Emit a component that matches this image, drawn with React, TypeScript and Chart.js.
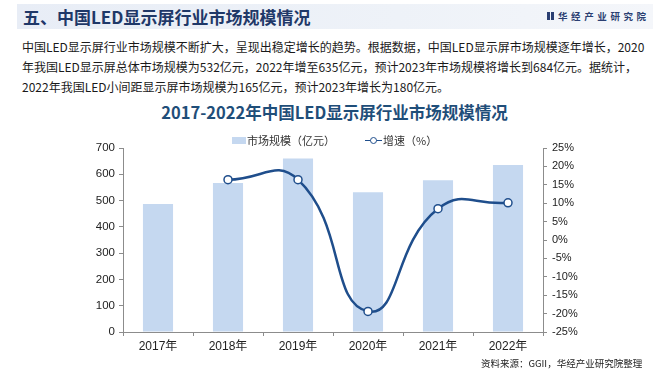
import React, { useEffect, useRef } from "react";
import { Chart, registerables } from "chart.js";

Chart.register(...registerables);

// ---- data ----
const categories = ["2017年", "2018年", "2019年", "2020年", "2021年", "2022年"];
const marketSize = [487, 567, 660, 532, 577, 635]; // 市场规模（亿元）
const growthRate = [null, 16.4, 16.4, -19.4, 8.5, 10.1]; // 增速（%）
const leftTickMin = 0;
const leftTickMax = 700;
const leftTickStep = 100;
const rightTickMin = -25;
const rightTickMax = 25;
const rightTickStep = 5;

const barLabel = "市场规模（亿元）";
const lineLabel = "增速（%）";
const headerTitle = "五、中国LED显示屏行业市场规模情况";
const chartTitle = "2017-2022年中国LED显示屏行业市场规模情况";
const paragraphLines = [
  "中国LED显示屏行业市场规模不断扩大，呈现出稳定增长的趋势。根据数据，中国LED显示屏市场规模逐年增长，2020",
  "年我国LED显示屏总体市场规模为532亿元，2022年增至635亿元，预计2023年市场规模将增长到684亿元。据统计，",
  "2022年我国LED小间距显示屏市场规模为165亿元，预计2023年增长为180亿元。",
];
const sourceText = "资料来源：GGII，华经产业研究院整理";
const logoText = "华经产业研究院";

const barColor = "#c5d8f0";
const lineColor = "#1f4e8c";
const axisColor = "#8c8c8c";
const cjk = "'Noto Sans CJK SC', sans-serif";
const latin = "'Liberation Sans', Arial, 'Noto Sans CJK SC', sans-serif";

export default function App() {
  const canvasRef = useRef<HTMLCanvasElement | null>(null);

  useEffect(() => {
    const canvas = canvasRef.current;
    if (!canvas) return;
    const chart = new Chart(canvas, {
      type: "bar",
      data: {
        labels: categories,
        datasets: [
          {
            type: "line",
            label: lineLabel,
            data: growthRate,
            yAxisID: "y1",
            borderColor: lineColor,
            borderWidth: 2.5,
            tension: 0.5,
            spanGaps: true,
            pointRadius: 4,
            pointBackgroundColor: "#ffffff",
            pointBorderColor: lineColor,
            pointBorderWidth: 1.5,
            order: 0,
          } as any,
          {
            type: "bar",
            label: barLabel,
            data: marketSize,
            yAxisID: "y",
            backgroundColor: barColor,
            categoryPercentage: 0.86,
            barPercentage: 0.5,
            order: 1,
          } as any,
        ],
      },
      options: {
        responsive: false,
        animation: false,
        devicePixelRatio: 1,
        layout: { padding: { top: 148, left: 0, right: 0, bottom: 0 } },
        plugins: {
          legend: { display: false },
          title: { display: false },
          tooltip: { enabled: false },
        },
        scales: {
          x: {
            grid: {
              display: true,
              drawOnChartArea: false,
              drawTicks: true,
              tickLength: 4,
              color: axisColor,
              offset: true,
            },
            border: { display: true, color: axisColor, width: 1 },
            ticks: {
              color: "#222222",
              padding: 3,
              font: { family: latin, size: 12 },
              maxRotation: 0,
            },
            afterFit: (s: any) => {
              s.height = 40;
            },
          },
          y: {
            position: "left",
            min: leftTickMin,
            max: leftTickMax,
            ticks: {
              stepSize: leftTickStep,
              color: "#222222",
              padding: 4,
              font: { family: latin, size: 11.5 },
            },
            grid: {
              display: true,
              drawOnChartArea: false,
              drawTicks: true,
              tickLength: 4,
              color: axisColor,
            },
            border: { display: true, color: axisColor, width: 1 },
            afterFit: (s: any) => {
              s.width = 123;
            },
          },
          y1: {
            position: "right",
            min: rightTickMin,
            max: rightTickMax,
            ticks: {
              stepSize: rightTickStep,
              color: "#222222",
              padding: 5,
              font: { family: latin, size: 11 },
              callback: (v: any) => `${v}%`,
            },
            grid: {
              display: true,
              drawOnChartArea: false,
              drawTicks: true,
              tickLength: 4,
              color: axisColor,
            },
            border: { display: true, color: axisColor, width: 1 },
            afterFit: (s: any) => {
              s.width = 126;
            },
          },
        },
      },
    });
    return () => chart.destroy();
  }, []);

  return (
    <div
      style={{
        position: "absolute",
        left: 0,
        top: 0,
        width: 669,
        height: 372,
        background: "#ffffff",
        overflow: "hidden",
        fontFamily: cjk,
      }}
    >
      {/* header band */}
      <div
        style={{
          position: "absolute",
          left: 17,
          top: 4,
          width: 636,
          height: 25,
          background: "linear-gradient(90deg, #e8edf6 0%, #eef2f8 60%, #f4f6fa 100%)",
        }}
      />
      <div
        style={{
          position: "absolute",
          left: 23,
          top: 4,
          height: 26,
          lineHeight: "26px",
          fontSize: 17,
          fontWeight: 700,
          color: "#1f3868",
          whiteSpace: "nowrap",
        }}
      >
        {headerTitle}
      </div>
      {/* logo */}
      <div
        style={{
          position: "absolute",
          left: 547,
          top: 12,
          width: 3,
          height: 8,
          background: "#2b3f72",
        }}
      />
      <div
        style={{
          position: "absolute",
          left: 551,
          top: 12,
          width: 3,
          height: 8,
          background: "#2b3f72",
        }}
      />
      <div
        style={{
          position: "absolute",
          left: 558,
          top: 8,
          height: 16,
          lineHeight: "16px",
          fontSize: 9.5,
          fontWeight: 700,
          letterSpacing: 3.6,
          color: "#2b3f72",
          whiteSpace: "nowrap",
        }}
      >
        {logoText}
      </div>
      {/* paragraph */}
      {paragraphLines.map((t, i) => (
        <div
          key={i}
          style={{
            position: "absolute",
            left: 22,
            top: 37 + i * 20,
            height: 20,
            lineHeight: "20px",
            fontSize: 12,
            color: "#1a1a1a",
            whiteSpace: "nowrap",
          }}
        >
          {t}
        </div>
      ))}
      {/* chart title */}
      <div
        style={{
          position: "absolute",
          left: 0,
          top: 101,
          width: 669,
          height: 22,
          lineHeight: "22px",
          textAlign: "center",
          fontSize: 16.5,
          fontWeight: 700,
          color: "#1f4e79",
          whiteSpace: "nowrap",
        }}
      >
        {chartTitle}
      </div>
      <canvas
        ref={canvasRef}
        width={669}
        height={372}
        style={{ position: "absolute", left: 0, top: 0, width: 669, height: 372 }}
      />
      {/* legend */}
      <div
        style={{
          position: "absolute",
          left: 232,
          top: 137,
          width: 14,
          height: 7,
          background: barColor,
        }}
      />
      <div
        style={{
          position: "absolute",
          left: 247,
          top: 132,
          height: 16,
          lineHeight: "16px",
          fontSize: 11,
          color: "#333333",
          whiteSpace: "nowrap",
        }}
      >
        {barLabel}
      </div>
      <div
        style={{
          position: "absolute",
          left: 365,
          top: 139.5,
          width: 17,
          height: 1.6,
          background: lineColor,
        }}
      />
      <div
        style={{
          position: "absolute",
          left: 369.5,
          top: 136.5,
          width: 5,
          height: 5,
          borderRadius: "50%",
          background: "#ffffff",
          border: `1.3px solid ${lineColor}`,
        }}
      />
      <div
        style={{
          position: "absolute",
          left: 383,
          top: 132,
          height: 16,
          lineHeight: "16px",
          fontSize: 11,
          color: "#333333",
          whiteSpace: "nowrap",
        }}
      >
        {lineLabel}
      </div>
      {/* source */}
      <div
        style={{
          position: "absolute",
          left: 481,
          top: 356,
          height: 14,
          lineHeight: "14px",
          fontSize: 9.5,
          color: "#222222",
          whiteSpace: "nowrap",
        }}
      >
        {sourceText}
      </div>
    </div>
  );
}
